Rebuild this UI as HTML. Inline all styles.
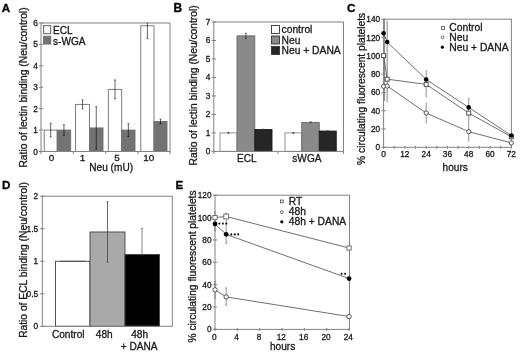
<!DOCTYPE html>
<html><head><meta charset="utf-8"><style>
html,body{margin:0;padding:0;background:#fff;}
svg{display:block;font-family:"Liberation Sans", sans-serif;filter:blur(0.35px);}
</style></head><body>
<svg width="520" height="353" viewBox="0 0 520 353">
<rect width="520" height="353" fill="#fff"/>
<rect x="44.20" y="130.08" width="13.00" height="21.42" fill="#fff" stroke="#707070" stroke-width="0.9"/>
<rect x="57.20" y="130.08" width="13.50" height="21.42" fill="#737373" stroke="#707070" stroke-width="0.9"/>
<rect x="75.60" y="104.38" width="13.90" height="47.12" fill="#fff" stroke="#707070" stroke-width="0.9"/>
<rect x="89.50" y="127.94" width="13.50" height="23.56" fill="#737373" stroke="#707070" stroke-width="0.9"/>
<rect x="108.30" y="89.38" width="13.40" height="62.12" fill="#fff" stroke="#707070" stroke-width="0.9"/>
<rect x="121.70" y="130.08" width="13.30" height="21.42" fill="#737373" stroke="#707070" stroke-width="0.9"/>
<rect x="140.80" y="25.76" width="13.20" height="125.74" fill="#fff" stroke="#707070" stroke-width="0.9"/>
<rect x="154.00" y="121.51" width="13.00" height="29.99" fill="#737373" stroke="#707070" stroke-width="0.9"/>
<line x1="50.70" y1="123.23" x2="50.70" y2="136.93" stroke="#000" stroke-width="0.6"/>
<line x1="49.80" y1="123.23" x2="51.60" y2="123.23" stroke="#000" stroke-width="0.6"/>
<line x1="49.80" y1="136.93" x2="51.60" y2="136.93" stroke="#000" stroke-width="0.6"/>
<line x1="63.95" y1="124.72" x2="63.95" y2="135.44" stroke="#000" stroke-width="0.6"/>
<line x1="63.05" y1="124.72" x2="64.85" y2="124.72" stroke="#000" stroke-width="0.6"/>
<line x1="63.05" y1="135.44" x2="64.85" y2="135.44" stroke="#000" stroke-width="0.6"/>
<line x1="82.55" y1="99.88" x2="82.55" y2="108.87" stroke="#000" stroke-width="0.6"/>
<line x1="81.65" y1="99.88" x2="83.45" y2="99.88" stroke="#000" stroke-width="0.6"/>
<line x1="81.65" y1="108.87" x2="83.45" y2="108.87" stroke="#000" stroke-width="0.6"/>
<line x1="96.25" y1="106.73" x2="96.25" y2="149.14" stroke="#000" stroke-width="0.6"/>
<line x1="95.35" y1="106.73" x2="97.15" y2="106.73" stroke="#000" stroke-width="0.6"/>
<line x1="95.35" y1="149.14" x2="97.15" y2="149.14" stroke="#000" stroke-width="0.6"/>
<line x1="115.00" y1="79.96" x2="115.00" y2="98.81" stroke="#000" stroke-width="0.6"/>
<line x1="114.10" y1="79.96" x2="115.90" y2="79.96" stroke="#000" stroke-width="0.6"/>
<line x1="114.10" y1="98.81" x2="115.90" y2="98.81" stroke="#000" stroke-width="0.6"/>
<line x1="128.35" y1="123.65" x2="128.35" y2="136.51" stroke="#000" stroke-width="0.6"/>
<line x1="127.45" y1="123.65" x2="129.25" y2="123.65" stroke="#000" stroke-width="0.6"/>
<line x1="127.45" y1="136.51" x2="129.25" y2="136.51" stroke="#000" stroke-width="0.6"/>
<line x1="147.40" y1="23.00" x2="147.40" y2="38.62" stroke="#000" stroke-width="0.6"/>
<line x1="146.50" y1="23.00" x2="148.30" y2="23.00" stroke="#000" stroke-width="0.6"/>
<line x1="146.50" y1="38.62" x2="148.30" y2="38.62" stroke="#000" stroke-width="0.6"/>
<line x1="160.50" y1="119.16" x2="160.50" y2="123.87" stroke="#000" stroke-width="0.6"/>
<line x1="159.60" y1="119.16" x2="161.40" y2="119.16" stroke="#000" stroke-width="0.6"/>
<line x1="159.60" y1="123.87" x2="161.40" y2="123.87" stroke="#000" stroke-width="0.6"/>
<rect x="41.00" y="23.00" width="129.00" height="128.50" fill="none" stroke="#828282" stroke-width="1"/>
<line x1="38.80" y1="151.50" x2="43.20" y2="151.50" stroke="#828282" stroke-width="1"/>
<text x="37.80" y="154.50" font-size="8.3" text-anchor="end" font-weight="normal" fill="#1a1a1a" stroke="#1a1a1a" stroke-width="0.3">0</text>
<line x1="38.80" y1="130.08" x2="43.20" y2="130.08" stroke="#828282" stroke-width="1"/>
<text x="37.80" y="133.08" font-size="8.3" text-anchor="end" font-weight="normal" fill="#1a1a1a" stroke="#1a1a1a" stroke-width="0.3">1</text>
<line x1="38.80" y1="108.66" x2="43.20" y2="108.66" stroke="#828282" stroke-width="1"/>
<text x="37.80" y="111.66" font-size="8.3" text-anchor="end" font-weight="normal" fill="#1a1a1a" stroke="#1a1a1a" stroke-width="0.3">2</text>
<line x1="38.80" y1="87.24" x2="43.20" y2="87.24" stroke="#828282" stroke-width="1"/>
<text x="37.80" y="90.24" font-size="8.3" text-anchor="end" font-weight="normal" fill="#1a1a1a" stroke="#1a1a1a" stroke-width="0.3">3</text>
<line x1="38.80" y1="65.82" x2="43.20" y2="65.82" stroke="#828282" stroke-width="1"/>
<text x="37.80" y="68.82" font-size="8.3" text-anchor="end" font-weight="normal" fill="#1a1a1a" stroke="#1a1a1a" stroke-width="0.3">4</text>
<line x1="38.80" y1="44.40" x2="43.20" y2="44.40" stroke="#828282" stroke-width="1"/>
<text x="37.80" y="47.40" font-size="8.3" text-anchor="end" font-weight="normal" fill="#1a1a1a" stroke="#1a1a1a" stroke-width="0.3">5</text>
<line x1="38.80" y1="22.98" x2="43.20" y2="22.98" stroke="#828282" stroke-width="1"/>
<text x="37.80" y="25.98" font-size="8.3" text-anchor="end" font-weight="normal" fill="#1a1a1a" stroke="#1a1a1a" stroke-width="0.3">6</text>
<line x1="41.00" y1="151.50" x2="41.00" y2="154.00" stroke="#828282" stroke-width="1"/>
<line x1="73.30" y1="151.50" x2="73.30" y2="154.00" stroke="#828282" stroke-width="1"/>
<line x1="105.70" y1="151.50" x2="105.70" y2="154.00" stroke="#828282" stroke-width="1"/>
<line x1="138.00" y1="151.50" x2="138.00" y2="154.00" stroke="#828282" stroke-width="1"/>
<line x1="170.00" y1="151.50" x2="170.00" y2="154.00" stroke="#828282" stroke-width="1"/>
<text x="51.60" y="161.30" font-size="9.9" text-anchor="middle" font-weight="normal" fill="#1a1a1a" stroke="#1a1a1a" stroke-width="0.3">0</text>
<text x="82.50" y="161.30" font-size="9.9" text-anchor="middle" font-weight="normal" fill="#1a1a1a" stroke="#1a1a1a" stroke-width="0.3">1</text>
<text x="117.00" y="161.30" font-size="9.9" text-anchor="middle" font-weight="normal" fill="#1a1a1a" stroke="#1a1a1a" stroke-width="0.3">5</text>
<text x="148.75" y="161.30" font-size="9.9" text-anchor="middle" font-weight="normal" fill="#1a1a1a" stroke="#1a1a1a" stroke-width="0.3">10</text>
<text x="89.30" y="170.70" font-size="10.1" text-anchor="start" font-weight="normal" fill="#1a1a1a" stroke="#1a1a1a" stroke-width="0.3">Neu (mU)</text>
<text x="26.90" y="87.50" font-size="10.25" text-anchor="middle" font-weight="normal" fill="#1a1a1a" stroke="#1a1a1a" stroke-width="0.3" transform="rotate(-90 26.90 87.50)">Ratio of lectin binding (Neu/control)</text>
<rect x="43.60" y="25.60" width="7.00" height="8.00" fill="#fff" stroke="#777" stroke-width="1.2"/>
<rect x="43.60" y="36.40" width="7.00" height="7.60" fill="#737373" stroke="#777" stroke-width="1.2"/>
<text x="53.00" y="33.60" font-size="10.1" text-anchor="start" font-weight="normal" fill="#1a1a1a" stroke="#1a1a1a" stroke-width="0.3">ECL</text>
<text x="53.00" y="44.60" font-size="10.1" text-anchor="start" font-weight="normal" fill="#1a1a1a" stroke="#1a1a1a" stroke-width="0.3">s-WGA</text>
<text x="1.80" y="11.50" font-size="11.6" text-anchor="start" font-weight="bold" fill="#000" stroke="#000" stroke-width="0.3">A</text>
<rect x="220.00" y="132.91" width="17.00" height="18.49" fill="#fff" stroke="#888" stroke-width="0.9"/>
<rect x="237.00" y="35.84" width="17.80" height="115.56" fill="#8a8a8a" stroke="#6a6a6a" stroke-width="0.9"/>
<rect x="254.80" y="129.58" width="17.20" height="21.82" fill="#262626" stroke="#1a1a1a" stroke-width="0.9"/>
<rect x="285.00" y="132.91" width="16.75" height="18.49" fill="#fff" stroke="#888" stroke-width="0.9"/>
<rect x="301.75" y="122.37" width="17.50" height="29.03" fill="#8a8a8a" stroke="#6a6a6a" stroke-width="0.9"/>
<rect x="319.25" y="131.06" width="17.00" height="20.34" fill="#262626" stroke="#1a1a1a" stroke-width="0.9"/>
<line x1="228.50" y1="132.54" x2="228.50" y2="133.28" stroke="#333" stroke-width="0.8"/>
<line x1="227.70" y1="132.54" x2="229.30" y2="132.54" stroke="#333" stroke-width="0.8"/>
<line x1="227.70" y1="133.28" x2="229.30" y2="133.28" stroke="#333" stroke-width="0.8"/>
<line x1="245.90" y1="33.25" x2="245.90" y2="38.43" stroke="#333" stroke-width="0.8"/>
<line x1="245.10" y1="33.25" x2="246.70" y2="33.25" stroke="#333" stroke-width="0.8"/>
<line x1="245.10" y1="38.43" x2="246.70" y2="38.43" stroke="#333" stroke-width="0.8"/>
<line x1="263.40" y1="129.21" x2="263.40" y2="129.95" stroke="#333" stroke-width="0.8"/>
<line x1="262.60" y1="129.21" x2="264.20" y2="129.21" stroke="#333" stroke-width="0.8"/>
<line x1="262.60" y1="129.95" x2="264.20" y2="129.95" stroke="#333" stroke-width="0.8"/>
<line x1="293.38" y1="132.54" x2="293.38" y2="133.28" stroke="#333" stroke-width="0.8"/>
<line x1="292.57" y1="132.54" x2="294.18" y2="132.54" stroke="#333" stroke-width="0.8"/>
<line x1="292.57" y1="133.28" x2="294.18" y2="133.28" stroke="#333" stroke-width="0.8"/>
<line x1="310.50" y1="121.82" x2="310.50" y2="122.93" stroke="#333" stroke-width="0.8"/>
<line x1="309.70" y1="121.82" x2="311.30" y2="121.82" stroke="#333" stroke-width="0.8"/>
<line x1="309.70" y1="122.93" x2="311.30" y2="122.93" stroke="#333" stroke-width="0.8"/>
<line x1="327.75" y1="130.69" x2="327.75" y2="131.43" stroke="#333" stroke-width="0.8"/>
<line x1="326.95" y1="130.69" x2="328.55" y2="130.69" stroke="#333" stroke-width="0.8"/>
<line x1="326.95" y1="131.43" x2="328.55" y2="131.43" stroke="#333" stroke-width="0.8"/>
<rect x="213.80" y="22.00" width="129.70" height="129.40" fill="none" stroke="#828282" stroke-width="1"/>
<line x1="211.60" y1="151.40" x2="216.00" y2="151.40" stroke="#828282" stroke-width="1"/>
<text x="210.40" y="154.40" font-size="8.3" text-anchor="end" font-weight="normal" fill="#1a1a1a" stroke="#1a1a1a" stroke-width="0.3">0</text>
<line x1="211.60" y1="132.91" x2="216.00" y2="132.91" stroke="#828282" stroke-width="1"/>
<text x="210.40" y="135.91" font-size="8.3" text-anchor="end" font-weight="normal" fill="#1a1a1a" stroke="#1a1a1a" stroke-width="0.3">1</text>
<line x1="211.60" y1="114.42" x2="216.00" y2="114.42" stroke="#828282" stroke-width="1"/>
<text x="210.40" y="117.42" font-size="8.3" text-anchor="end" font-weight="normal" fill="#1a1a1a" stroke="#1a1a1a" stroke-width="0.3">2</text>
<line x1="211.60" y1="95.93" x2="216.00" y2="95.93" stroke="#828282" stroke-width="1"/>
<text x="210.40" y="98.93" font-size="8.3" text-anchor="end" font-weight="normal" fill="#1a1a1a" stroke="#1a1a1a" stroke-width="0.3">3</text>
<line x1="211.60" y1="77.44" x2="216.00" y2="77.44" stroke="#828282" stroke-width="1"/>
<text x="210.40" y="80.44" font-size="8.3" text-anchor="end" font-weight="normal" fill="#1a1a1a" stroke="#1a1a1a" stroke-width="0.3">4</text>
<line x1="211.60" y1="58.95" x2="216.00" y2="58.95" stroke="#828282" stroke-width="1"/>
<text x="210.40" y="61.95" font-size="8.3" text-anchor="end" font-weight="normal" fill="#1a1a1a" stroke="#1a1a1a" stroke-width="0.3">5</text>
<line x1="211.60" y1="40.46" x2="216.00" y2="40.46" stroke="#828282" stroke-width="1"/>
<text x="210.40" y="43.46" font-size="8.3" text-anchor="end" font-weight="normal" fill="#1a1a1a" stroke="#1a1a1a" stroke-width="0.3">6</text>
<line x1="211.60" y1="21.97" x2="216.00" y2="21.97" stroke="#828282" stroke-width="1"/>
<text x="210.40" y="24.97" font-size="8.3" text-anchor="end" font-weight="normal" fill="#1a1a1a" stroke="#1a1a1a" stroke-width="0.3">7</text>
<line x1="213.80" y1="151.40" x2="213.80" y2="153.90" stroke="#828282" stroke-width="1"/>
<line x1="278.00" y1="151.40" x2="278.00" y2="153.90" stroke="#828282" stroke-width="1"/>
<line x1="343.50" y1="151.40" x2="343.50" y2="153.90" stroke="#828282" stroke-width="1"/>
<text x="246.75" y="161.60" font-size="10.1" text-anchor="middle" font-weight="normal" fill="#1a1a1a" stroke="#1a1a1a" stroke-width="0.3">ECL</text>
<text x="306.90" y="161.60" font-size="10.1" text-anchor="middle" font-weight="normal" fill="#1a1a1a" stroke="#1a1a1a" stroke-width="0.3">sWGA</text>
<text x="197.10" y="85.40" font-size="10.25" text-anchor="middle" font-weight="normal" fill="#1a1a1a" stroke="#1a1a1a" stroke-width="0.3" transform="rotate(-90 197.10 85.40)">Ratio of lectin binding (Neu/control)</text>
<rect x="271.50" y="25.50" width="8.00" height="8.00" fill="#fff" stroke="#333" stroke-width="0.9"/>
<rect x="271.50" y="36.00" width="8.00" height="8.00" fill="#8a8a8a" stroke="#333" stroke-width="0.9"/>
<rect x="271.50" y="46.50" width="8.00" height="8.00" fill="#262626" stroke="#333" stroke-width="0.9"/>
<text x="281.50" y="33.00" font-size="10.3" text-anchor="start" font-weight="normal" fill="#1a1a1a" stroke="#1a1a1a" stroke-width="0.3">control</text>
<text x="281.50" y="43.70" font-size="10.3" text-anchor="start" font-weight="normal" fill="#1a1a1a" stroke="#1a1a1a" stroke-width="0.3">Neu</text>
<text x="281.50" y="54.40" font-size="10.3" text-anchor="start" font-weight="normal" fill="#1a1a1a" stroke="#1a1a1a" stroke-width="0.3">Neu + DANA</text>
<text x="173.40" y="11.60" font-size="12" text-anchor="start" font-weight="bold" fill="#000" stroke="#000" stroke-width="0.3">B</text>
<rect x="383.60" y="19.20" width="127.80" height="128.10" fill="none" stroke="#828282" stroke-width="1"/>
<line x1="381.40" y1="147.30" x2="385.80" y2="147.30" stroke="#828282" stroke-width="1"/>
<text x="380.20" y="150.30" font-size="8.3" text-anchor="end" font-weight="normal" fill="#1a1a1a" stroke="#1a1a1a" stroke-width="0.3">0</text>
<line x1="381.40" y1="129.01" x2="385.80" y2="129.01" stroke="#828282" stroke-width="1"/>
<text x="380.20" y="132.01" font-size="8.3" text-anchor="end" font-weight="normal" fill="#1a1a1a" stroke="#1a1a1a" stroke-width="0.3">20</text>
<line x1="381.40" y1="110.72" x2="385.80" y2="110.72" stroke="#828282" stroke-width="1"/>
<text x="380.20" y="113.72" font-size="8.3" text-anchor="end" font-weight="normal" fill="#1a1a1a" stroke="#1a1a1a" stroke-width="0.3">40</text>
<line x1="381.40" y1="92.42" x2="385.80" y2="92.42" stroke="#828282" stroke-width="1"/>
<text x="380.20" y="95.42" font-size="8.3" text-anchor="end" font-weight="normal" fill="#1a1a1a" stroke="#1a1a1a" stroke-width="0.3">60</text>
<line x1="381.40" y1="74.13" x2="385.80" y2="74.13" stroke="#828282" stroke-width="1"/>
<text x="380.20" y="77.13" font-size="8.3" text-anchor="end" font-weight="normal" fill="#1a1a1a" stroke="#1a1a1a" stroke-width="0.3">80</text>
<line x1="381.40" y1="55.84" x2="385.80" y2="55.84" stroke="#828282" stroke-width="1"/>
<text x="380.20" y="58.84" font-size="8.3" text-anchor="end" font-weight="normal" fill="#1a1a1a" stroke="#1a1a1a" stroke-width="0.3">100</text>
<line x1="381.40" y1="37.55" x2="385.80" y2="37.55" stroke="#828282" stroke-width="1"/>
<text x="380.20" y="40.55" font-size="8.3" text-anchor="end" font-weight="normal" fill="#1a1a1a" stroke="#1a1a1a" stroke-width="0.3">120</text>
<line x1="381.40" y1="19.26" x2="385.80" y2="19.26" stroke="#828282" stroke-width="1"/>
<text x="380.20" y="22.26" font-size="8.3" text-anchor="end" font-weight="normal" fill="#1a1a1a" stroke="#1a1a1a" stroke-width="0.3">140</text>
<line x1="383.60" y1="145.80" x2="383.60" y2="148.80" stroke="#828282" stroke-width="1"/>
<line x1="394.24" y1="145.80" x2="394.24" y2="148.80" stroke="#828282" stroke-width="1"/>
<line x1="404.88" y1="145.80" x2="404.88" y2="148.80" stroke="#828282" stroke-width="1"/>
<line x1="415.52" y1="145.80" x2="415.52" y2="148.80" stroke="#828282" stroke-width="1"/>
<line x1="426.17" y1="145.80" x2="426.17" y2="148.80" stroke="#828282" stroke-width="1"/>
<line x1="436.81" y1="145.80" x2="436.81" y2="148.80" stroke="#828282" stroke-width="1"/>
<line x1="447.45" y1="145.80" x2="447.45" y2="148.80" stroke="#828282" stroke-width="1"/>
<line x1="458.09" y1="145.80" x2="458.09" y2="148.80" stroke="#828282" stroke-width="1"/>
<line x1="468.73" y1="145.80" x2="468.73" y2="148.80" stroke="#828282" stroke-width="1"/>
<line x1="479.37" y1="145.80" x2="479.37" y2="148.80" stroke="#828282" stroke-width="1"/>
<line x1="490.02" y1="145.80" x2="490.02" y2="148.80" stroke="#828282" stroke-width="1"/>
<line x1="500.66" y1="145.80" x2="500.66" y2="148.80" stroke="#828282" stroke-width="1"/>
<line x1="511.30" y1="145.80" x2="511.30" y2="148.80" stroke="#828282" stroke-width="1"/>
<text x="383.60" y="157.20" font-size="8.3" text-anchor="middle" font-weight="normal" fill="#1a1a1a" stroke="#1a1a1a" stroke-width="0.3">0</text>
<text x="404.88" y="157.20" font-size="8.3" text-anchor="middle" font-weight="normal" fill="#1a1a1a" stroke="#1a1a1a" stroke-width="0.3">12</text>
<text x="426.17" y="157.20" font-size="8.3" text-anchor="middle" font-weight="normal" fill="#1a1a1a" stroke="#1a1a1a" stroke-width="0.3">24</text>
<text x="447.45" y="157.20" font-size="8.3" text-anchor="middle" font-weight="normal" fill="#1a1a1a" stroke="#1a1a1a" stroke-width="0.3">36</text>
<text x="468.73" y="157.20" font-size="8.3" text-anchor="middle" font-weight="normal" fill="#1a1a1a" stroke="#1a1a1a" stroke-width="0.3">48</text>
<text x="490.02" y="157.20" font-size="8.3" text-anchor="middle" font-weight="normal" fill="#1a1a1a" stroke="#1a1a1a" stroke-width="0.3">60</text>
<text x="511.30" y="157.20" font-size="8.3" text-anchor="middle" font-weight="normal" fill="#1a1a1a" stroke="#1a1a1a" stroke-width="0.3">72</text>
<text x="442.60" y="171.20" font-size="10.1" text-anchor="start" font-weight="normal" fill="#1a1a1a" stroke="#1a1a1a" stroke-width="0.3">hours</text>
<text x="365.20" y="88.80" font-size="10.25" text-anchor="middle" font-weight="normal" fill="#1a1a1a" stroke="#1a1a1a" stroke-width="0.3" transform="rotate(-90 365.20 88.80)">% circulating fluorescent platelets</text>
<line x1="384.40" y1="20.00" x2="384.40" y2="101.00" stroke="#777" stroke-width="0.9"/>
<line x1="387.15" y1="20.70" x2="387.15" y2="102.00" stroke="#777" stroke-width="0.9"/>
<line x1="426.17" y1="69.90" x2="426.17" y2="97.60" stroke="#777" stroke-width="0.8"/>
<line x1="426.17" y1="102.60" x2="426.17" y2="123.40" stroke="#777" stroke-width="0.8"/>
<line x1="468.73" y1="97.20" x2="468.73" y2="141.40" stroke="#777" stroke-width="0.8"/>
<polyline points="383.60,55.66 387.15,79.16 426.17,84.38 468.73,113.09 511.30,136.78" fill="none" stroke="#555" stroke-width="0.85"/>
<polyline points="383.60,86.30 387.15,86.02 426.17,113.00 468.73,131.66 511.30,142.91" fill="none" stroke="#555" stroke-width="0.85"/>
<polyline points="383.60,33.34 387.15,42.03 426.17,79.44 468.73,107.42 511.30,135.50" fill="none" stroke="#555" stroke-width="0.85"/>
<rect x="381.60" y="53.66" width="4.00" height="4.00" fill="#fff" stroke="#444" stroke-width="0.9"/>
<rect x="385.15" y="77.16" width="4.00" height="4.00" fill="#fff" stroke="#444" stroke-width="0.9"/>
<rect x="424.17" y="82.38" width="4.00" height="4.00" fill="#fff" stroke="#444" stroke-width="0.9"/>
<rect x="466.73" y="111.09" width="4.00" height="4.00" fill="#fff" stroke="#444" stroke-width="0.9"/>
<rect x="509.30" y="134.78" width="4.00" height="4.00" fill="#fff" stroke="#444" stroke-width="0.9"/>
<circle cx="383.60" cy="86.30" r="2.10" fill="#fff" stroke="#444" stroke-width="0.9"/>
<circle cx="387.15" cy="86.02" r="2.10" fill="#fff" stroke="#444" stroke-width="0.9"/>
<circle cx="426.17" cy="113.00" r="2.10" fill="#fff" stroke="#444" stroke-width="0.9"/>
<circle cx="468.73" cy="131.66" r="2.10" fill="#fff" stroke="#444" stroke-width="0.9"/>
<circle cx="511.30" cy="142.91" r="2.10" fill="#fff" stroke="#444" stroke-width="0.9"/>
<circle cx="383.60" cy="33.34" r="2.30" fill="#000"/>
<circle cx="387.15" cy="42.03" r="2.30" fill="#000"/>
<circle cx="426.17" cy="79.44" r="2.30" fill="#000"/>
<circle cx="468.73" cy="107.42" r="2.30" fill="#000"/>
<circle cx="511.30" cy="135.50" r="2.30" fill="#000"/>
<rect x="441.60" y="26.60" width="2.80" height="2.80" fill="#fff" stroke="#444" stroke-width="0.8"/>
<circle cx="442.60" cy="37.30" r="1.40" fill="#fff" stroke="#444" stroke-width="0.8"/>
<circle cx="442.40" cy="47.20" r="1.60" fill="#000"/>
<text x="449.30" y="31.00" font-size="10.3" text-anchor="start" font-weight="normal" fill="#1a1a1a" stroke="#1a1a1a" stroke-width="0.3">Control</text>
<text x="449.30" y="41.00" font-size="10.3" text-anchor="start" font-weight="normal" fill="#1a1a1a" stroke="#1a1a1a" stroke-width="0.3">Neu</text>
<text x="449.30" y="51.10" font-size="10.3" text-anchor="start" font-weight="normal" fill="#1a1a1a" stroke="#1a1a1a" stroke-width="0.3">Neu + DANA</text>
<text x="347.10" y="12.00" font-size="11.8" text-anchor="start" font-weight="bold" fill="#000" stroke="#000" stroke-width="0.3">C</text>
<rect x="55.50" y="261.25" width="34.50" height="65.05" fill="#fff" stroke="#444" stroke-width="0.9"/>
<rect x="90.00" y="231.98" width="35.00" height="94.32" fill="#a9a9a9" stroke="#444" stroke-width="0.9"/>
<rect x="125.00" y="254.42" width="34.50" height="71.88" fill="#000" stroke="#444" stroke-width="0.9"/>
<line x1="60.00" y1="261.25" x2="86.00" y2="261.25" stroke="#444" stroke-width="0.8"/>
<line x1="107.50" y1="201.73" x2="107.50" y2="262.23" stroke="#444" stroke-width="0.8"/>
<line x1="106.50" y1="201.73" x2="108.50" y2="201.73" stroke="#444" stroke-width="0.8"/>
<line x1="106.50" y1="262.23" x2="108.50" y2="262.23" stroke="#444" stroke-width="0.8"/>
<line x1="142.00" y1="228.40" x2="142.00" y2="254.42" stroke="#666" stroke-width="0.8"/>
<line x1="141.00" y1="228.40" x2="143.00" y2="228.40" stroke="#666" stroke-width="0.8"/>
<line x1="141.00" y1="254.42" x2="143.00" y2="254.42" stroke="#666" stroke-width="0.8"/>
<rect x="42.30" y="196.20" width="130.00" height="130.10" fill="none" stroke="#828282" stroke-width="1"/>
<line x1="40.10" y1="326.30" x2="44.50" y2="326.30" stroke="#828282" stroke-width="1"/>
<text x="38.10" y="329.30" font-size="8.3" text-anchor="end" font-weight="normal" fill="#1a1a1a" stroke="#1a1a1a" stroke-width="0.3">0</text>
<line x1="40.10" y1="293.78" x2="44.50" y2="293.78" stroke="#828282" stroke-width="1"/>
<text x="38.10" y="296.78" font-size="8.3" text-anchor="end" font-weight="normal" fill="#1a1a1a" stroke="#1a1a1a" stroke-width="0.3">0.5</text>
<line x1="40.10" y1="261.25" x2="44.50" y2="261.25" stroke="#828282" stroke-width="1"/>
<text x="38.10" y="264.25" font-size="8.3" text-anchor="end" font-weight="normal" fill="#1a1a1a" stroke="#1a1a1a" stroke-width="0.3">1</text>
<line x1="40.10" y1="228.73" x2="44.50" y2="228.73" stroke="#828282" stroke-width="1"/>
<text x="38.10" y="231.73" font-size="8.3" text-anchor="end" font-weight="normal" fill="#1a1a1a" stroke="#1a1a1a" stroke-width="0.3">1.5</text>
<line x1="40.10" y1="196.20" x2="44.50" y2="196.20" stroke="#828282" stroke-width="1"/>
<text x="38.10" y="199.20" font-size="8.3" text-anchor="end" font-weight="normal" fill="#1a1a1a" stroke="#1a1a1a" stroke-width="0.3">2</text>
<text x="68.25" y="338.30" font-size="10.1" text-anchor="middle" font-weight="normal" fill="#1a1a1a" stroke="#1a1a1a" stroke-width="0.3">Control</text>
<text x="104.25" y="338.30" font-size="10.1" text-anchor="middle" font-weight="normal" fill="#1a1a1a" stroke="#1a1a1a" stroke-width="0.3">48h</text>
<text x="139.60" y="338.30" font-size="10.1" text-anchor="middle" font-weight="normal" fill="#1a1a1a" stroke="#1a1a1a" stroke-width="0.3">48h</text>
<text x="139.20" y="349.60" font-size="10.1" text-anchor="middle" font-weight="normal" fill="#1a1a1a" stroke="#1a1a1a" stroke-width="0.3">+ DANA</text>
<text x="26.50" y="260.00" font-size="10.25" text-anchor="middle" font-weight="normal" fill="#1a1a1a" stroke="#1a1a1a" stroke-width="0.3" transform="rotate(-90 26.50 260.00)">Ratio of ECL binding (Neu/control)</text>
<text x="2.10" y="188.70" font-size="11.6" text-anchor="start" font-weight="bold" fill="#000" stroke="#000" stroke-width="0.3">D</text>
<rect x="215.00" y="195.20" width="134.50" height="134.20" fill="none" stroke="#828282" stroke-width="1"/>
<line x1="212.80" y1="329.40" x2="217.20" y2="329.40" stroke="#828282" stroke-width="1"/>
<text x="211.60" y="332.40" font-size="8.3" text-anchor="end" font-weight="normal" fill="#1a1a1a" stroke="#1a1a1a" stroke-width="0.3">0</text>
<line x1="212.80" y1="307.04" x2="217.20" y2="307.04" stroke="#828282" stroke-width="1"/>
<text x="211.60" y="310.04" font-size="8.3" text-anchor="end" font-weight="normal" fill="#1a1a1a" stroke="#1a1a1a" stroke-width="0.3">20</text>
<line x1="212.80" y1="284.68" x2="217.20" y2="284.68" stroke="#828282" stroke-width="1"/>
<text x="211.60" y="287.68" font-size="8.3" text-anchor="end" font-weight="normal" fill="#1a1a1a" stroke="#1a1a1a" stroke-width="0.3">40</text>
<line x1="212.80" y1="262.32" x2="217.20" y2="262.32" stroke="#828282" stroke-width="1"/>
<text x="211.60" y="265.32" font-size="8.3" text-anchor="end" font-weight="normal" fill="#1a1a1a" stroke="#1a1a1a" stroke-width="0.3">60</text>
<line x1="212.80" y1="239.96" x2="217.20" y2="239.96" stroke="#828282" stroke-width="1"/>
<text x="211.60" y="242.96" font-size="8.3" text-anchor="end" font-weight="normal" fill="#1a1a1a" stroke="#1a1a1a" stroke-width="0.3">80</text>
<line x1="212.80" y1="217.60" x2="217.20" y2="217.60" stroke="#828282" stroke-width="1"/>
<text x="211.60" y="220.60" font-size="8.3" text-anchor="end" font-weight="normal" fill="#1a1a1a" stroke="#1a1a1a" stroke-width="0.3">100</text>
<line x1="212.80" y1="195.24" x2="217.20" y2="195.24" stroke="#828282" stroke-width="1"/>
<text x="211.60" y="198.24" font-size="8.3" text-anchor="end" font-weight="normal" fill="#1a1a1a" stroke="#1a1a1a" stroke-width="0.3">120</text>
<line x1="215.00" y1="327.90" x2="215.00" y2="330.90" stroke="#828282" stroke-width="1"/>
<line x1="237.34" y1="327.90" x2="237.34" y2="330.90" stroke="#828282" stroke-width="1"/>
<line x1="259.68" y1="327.90" x2="259.68" y2="330.90" stroke="#828282" stroke-width="1"/>
<line x1="282.02" y1="327.90" x2="282.02" y2="330.90" stroke="#828282" stroke-width="1"/>
<line x1="304.36" y1="327.90" x2="304.36" y2="330.90" stroke="#828282" stroke-width="1"/>
<line x1="326.70" y1="327.90" x2="326.70" y2="330.90" stroke="#828282" stroke-width="1"/>
<line x1="349.04" y1="327.90" x2="349.04" y2="330.90" stroke="#828282" stroke-width="1"/>
<text x="214.30" y="340.30" font-size="8.3" text-anchor="middle" font-weight="normal" fill="#1a1a1a" stroke="#1a1a1a" stroke-width="0.3">0</text>
<text x="236.64" y="340.30" font-size="8.3" text-anchor="middle" font-weight="normal" fill="#1a1a1a" stroke="#1a1a1a" stroke-width="0.3">4</text>
<text x="258.98" y="340.30" font-size="8.3" text-anchor="middle" font-weight="normal" fill="#1a1a1a" stroke="#1a1a1a" stroke-width="0.3">8</text>
<text x="281.32" y="340.30" font-size="8.3" text-anchor="middle" font-weight="normal" fill="#1a1a1a" stroke="#1a1a1a" stroke-width="0.3">12</text>
<text x="303.66" y="340.30" font-size="8.3" text-anchor="middle" font-weight="normal" fill="#1a1a1a" stroke="#1a1a1a" stroke-width="0.3">16</text>
<text x="326.00" y="340.30" font-size="8.3" text-anchor="middle" font-weight="normal" fill="#1a1a1a" stroke="#1a1a1a" stroke-width="0.3">20</text>
<text x="348.34" y="340.30" font-size="8.3" text-anchor="middle" font-weight="normal" fill="#1a1a1a" stroke="#1a1a1a" stroke-width="0.3">24</text>
<text x="270.00" y="350.20" font-size="10.1" text-anchor="start" font-weight="normal" fill="#1a1a1a" stroke="#1a1a1a" stroke-width="0.3">hours</text>
<text x="195.60" y="266.50" font-size="10.25" text-anchor="middle" font-weight="normal" fill="#1a1a1a" stroke="#1a1a1a" stroke-width="0.3" transform="rotate(-90 195.60 266.50)">% circulating fluorescent platelets</text>
<line x1="215.00" y1="212.01" x2="215.00" y2="230.68" stroke="#777" stroke-width="0.8"/>
<line x1="214.20" y1="212.01" x2="215.80" y2="212.01" stroke="#777" stroke-width="0.8"/>
<line x1="214.20" y1="230.68" x2="215.80" y2="230.68" stroke="#777" stroke-width="0.8"/>
<line x1="226.17" y1="213.13" x2="226.17" y2="243.31" stroke="#777" stroke-width="0.8"/>
<line x1="225.37" y1="213.13" x2="226.97" y2="213.13" stroke="#777" stroke-width="0.8"/>
<line x1="225.37" y1="243.31" x2="226.97" y2="243.31" stroke="#777" stroke-width="0.8"/>
<line x1="215.00" y1="281.44" x2="215.00" y2="297.98" stroke="#777" stroke-width="0.8"/>
<line x1="214.20" y1="281.44" x2="215.80" y2="281.44" stroke="#777" stroke-width="0.8"/>
<line x1="214.20" y1="297.98" x2="215.80" y2="297.98" stroke="#777" stroke-width="0.8"/>
<line x1="226.17" y1="287.92" x2="226.17" y2="305.25" stroke="#777" stroke-width="0.8"/>
<line x1="225.37" y1="287.92" x2="226.97" y2="287.92" stroke="#777" stroke-width="0.8"/>
<line x1="225.37" y1="305.25" x2="226.97" y2="305.25" stroke="#777" stroke-width="0.8"/>
<polyline points="215.00,217.60 226.17,216.48 349.04,248.01" fill="none" stroke="#555" stroke-width="0.85"/>
<polyline points="215.00,289.82 226.17,296.87 349.04,316.54" fill="none" stroke="#555" stroke-width="0.85"/>
<polyline points="215.00,223.97 226.17,234.37 349.04,278.53" fill="none" stroke="#555" stroke-width="0.85"/>
<rect x="212.90" y="215.50" width="4.20" height="4.20" fill="#fff" stroke="#666" stroke-width="0.9"/>
<rect x="223.77" y="214.08" width="4.80" height="4.80" fill="#fff" stroke="#666" stroke-width="0.9"/>
<rect x="346.94" y="245.91" width="4.20" height="4.20" fill="#fff" stroke="#666" stroke-width="0.9"/>
<circle cx="215.00" cy="289.82" r="2.20" fill="#fff" stroke="#444" stroke-width="0.9"/>
<circle cx="226.17" cy="296.87" r="2.20" fill="#fff" stroke="#444" stroke-width="0.9"/>
<circle cx="349.04" cy="316.54" r="2.20" fill="#fff" stroke="#444" stroke-width="0.9"/>
<circle cx="215.00" cy="223.97" r="2.40" fill="#000"/>
<circle cx="226.17" cy="234.37" r="2.40" fill="#000"/>
<circle cx="349.04" cy="278.53" r="2.40" fill="#000"/>
<circle cx="219.40" cy="223.60" r="1.05" fill="#111"/>
<circle cx="222.90" cy="223.60" r="1.05" fill="#111"/>
<circle cx="226.40" cy="223.60" r="1.05" fill="#111"/>
<circle cx="231.30" cy="234.40" r="1.05" fill="#111"/>
<circle cx="234.80" cy="234.40" r="1.05" fill="#111"/>
<circle cx="238.20" cy="234.40" r="1.05" fill="#111"/>
<circle cx="341.50" cy="273.80" r="1.05" fill="#111"/>
<circle cx="345.10" cy="273.80" r="1.05" fill="#111"/>
<rect x="280.40" y="200.00" width="2.80" height="2.80" fill="#fff" stroke="#444" stroke-width="0.8"/>
<circle cx="281.80" cy="212.20" r="1.40" fill="#fff" stroke="#444" stroke-width="0.8"/>
<circle cx="281.80" cy="221.80" r="1.60" fill="#000"/>
<text x="288.70" y="205.00" font-size="10.3" text-anchor="start" font-weight="normal" fill="#1a1a1a" stroke="#1a1a1a" stroke-width="0.3">RT</text>
<text x="288.70" y="215.00" font-size="10.3" text-anchor="start" font-weight="normal" fill="#1a1a1a" stroke="#1a1a1a" stroke-width="0.3">48h</text>
<text x="288.70" y="225.20" font-size="10.3" text-anchor="start" font-weight="normal" fill="#1a1a1a" stroke="#1a1a1a" stroke-width="0.3">48h + DANA</text>
<text x="175.40" y="188.70" font-size="11.6" text-anchor="start" font-weight="bold" fill="#000" stroke="#000" stroke-width="0.3">E</text>
</svg>
</body></html>
